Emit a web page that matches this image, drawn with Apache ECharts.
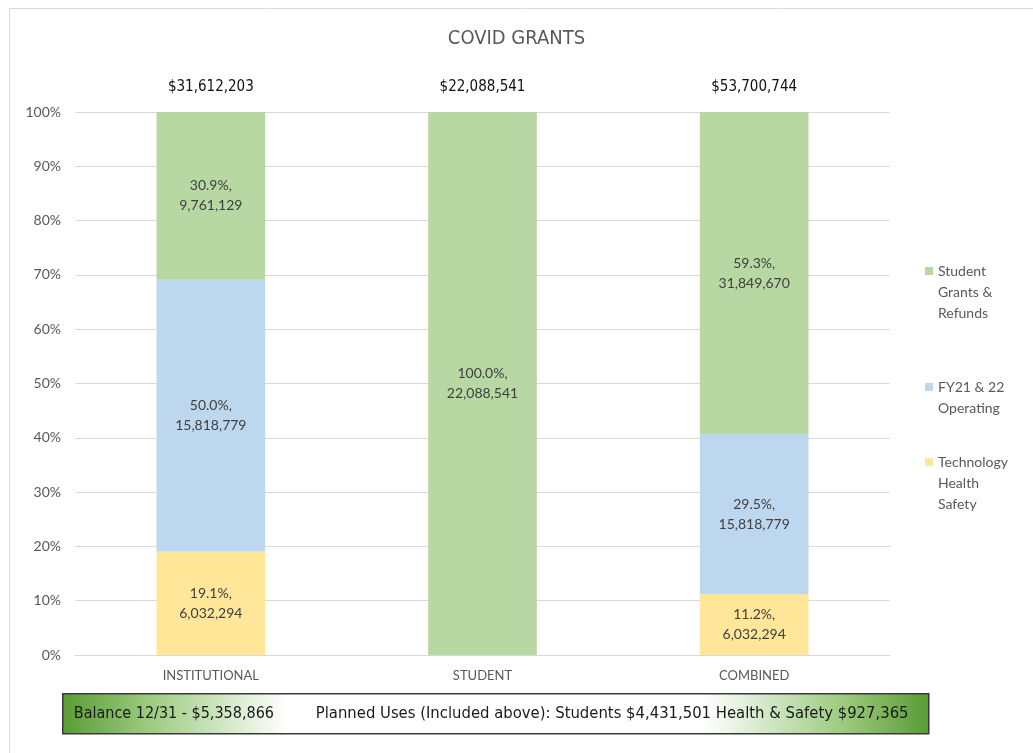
<!DOCTYPE html>
<html>
<head>
<meta charset="utf-8">
<script src="https://cdn.jsdelivr.net/npm/echarts@6/dist/echarts.min.js"></script>
<style>
html,body{margin:0;padding:0;background:#fff;}
#chart{width:1033px;height:753px;}
</style>
</head>
<body>
<div id="chart"></div>
<script>
const categories = ['INSTITUTIONAL', 'STUDENT', 'COMBINED'];
const techHealthSafety = [6032294, 0, 6032294];
const operating = [15818779, 0, 15818779];
const studentGrants = [9761129, 22088541, 31849670];
const totalLabels = ['$31,612,203', '$22,088,541', '$53,700,744'];
const yTicks = [0, 10, 20, 30, 40, 50, 60, 70, 80, 90, 100];
const seriesNames = ['Technology\nHealth\nSafety', 'FY21 & 22\nOperating', 'Student\nGrants &\nRefunds'];
const balanceText = 'Balance 12/31 - $5,358,866';
const plannedText = 'Planned Uses (Included above): Students $4,431,501 Health & Safety $927,365';

const colors = ['#ffe699', '#bdd7ee', '#b7d8a2'];
const raw = [techHealthSafety, operating, studentGrants];
const totals = categories.map((c, i) => raw.reduce((s, arr) => s + arr[i], 0));
const labelFont = "Lato, 'Open Sans', sans-serif";
const narrow = "'Liberation Sans Narrow', 'DejaVu Sans Condensed', 'Liberation Sans', sans-serif";

const series = raw.map((arr, k) => ({
  name: seriesNames[k],
  type: 'bar',
  stack: 'total',
  barWidth: '40%',
  itemStyle: { color: colors[k] },
  data: arr.map((v, i) => ({ value: v / totals[i] * 100, raw: v })),
  label: {
    show: true,
    position: 'inside',
    color: '#404040',
    fontFamily: labelFont,
    fontSize: 14,
    lineHeight: 20,
    formatter: p => p.data.raw === 0 ? '' : p.value.toFixed(1) + '%,\n' + p.data.raw.toLocaleString('en-US')
  }
}));

// legend entries top-to-bottom: series 2, 1, 0 ; first-line centre y in reference: 271, 387, 462
const LH = 21;
const legendCentres = [271, 387, 462];
const legends = [2, 1, 0].map((k, j) => {
  const lines = seriesNames[k].split('\n').length;
  const h = lines * LH;
  const H = h / 2 - LH / 2 + 4 + (h / 2 - LH / 2 - 4); // icon box height so square sits on first line
  const iconH = (h - LH) + 8;
  return {
    orient: 'vertical',
    left: 920,
    top: legendCentres[j] - LH / 2 - 5,
    data: [seriesNames[k]],
    icon: 'path://M0,0L8,0L8,8L0,8Z M0,' + iconH + 'L0.001,' + iconH + 'Z',
    itemWidth: 8,
    itemHeight: iconH,
    itemGap: 0,
    selectedMode: false,
    textStyle: { color: '#595959', fontFamily: labelFont, fontSize: 14, lineHeight: LH }
  };
});

const chart = echarts.init(document.getElementById('chart'), null, { renderer: 'canvas' });
chart.setOption({
  animation: false,
  backgroundColor: '#fff',
  title: {
    text: 'COVID GRANTS',
    left: 'center',
    top: 24,
    textStyle: { color: '#595959', fontFamily: narrow, fontSize: 20, fontWeight: 'normal' }
  },
  legend: legends,
  grid: { left: 75, right: 143, top: 112, bottom: 98 },
  xAxis: [
    {
      type: 'category',
      data: categories,
      axisLine: { lineStyle: { color: '#d9d9d9' } },
      axisTick: { show: false },
      axisLabel: { color: '#595959', fontFamily: labelFont, fontSize: 13, margin: 14 }
    },
    {
      type: 'category',
      position: 'top',
      data: totalLabels,
      axisLine: { show: false },
      axisTick: { show: false },
      axisLabel: { color: '#111', fontFamily: narrow, fontSize: 15, margin: 17 }
    }
  ],
  yAxis: {
    type: 'value',
    min: 0,
    max: 100,
    interval: 10,
    axisLine: { show: false },
    axisTick: { show: false },
    splitLine: { lineStyle: { color: '#d9d9d9' } },
    axisLabel: {
      color: '#595959', fontFamily: labelFont, fontSize: 14, margin: 14,
      formatter: v => yTicks.includes(v) ? v + '%' : ''
    }
  },
  series: series,
  graphic: [
    {
      type: 'rect',
      left: 7, top: 6,
      shape: { width: 1040, height: 760 },
      style: { fill: 'none', stroke: '#d9d9d9', lineWidth: 1 },
      silent: true, z: -10
    },
    {
      type: 'group',
      left: 62, top: 693,
      children: [
        {
          type: 'rect',
          shape: { x: 0, y: 0, width: 866, height: 40 },
          style: {
            fill: new echarts.graphic.LinearGradient(0, 0, 1, 0, [
              { offset: 0, color: '#5a9b33' },
              { offset: 0.1, color: '#9ccb80' },
              { offset: 0.26, color: '#ffffff' },
              { offset: 0.74, color: '#ffffff' },
              { offset: 0.9, color: '#9ccb80' },
              { offset: 1, color: '#5a9b33' }
            ]),
            stroke: '#3a3a3a',
            lineWidth: 1.5
          }
        },
        {
          type: 'text',
          x: 11, y: 20,
          style: { text: balanceText, fill: '#1a1a1a', font: "16px 'Liberation Sans Narrow', 'DejaVu Sans Condensed', sans-serif", textVerticalAlign: 'middle' }
        },
        {
          type: 'text',
          x: 253, y: 20,
          style: { text: plannedText, fill: '#1a1a1a', font: "16.5px 'Liberation Sans Narrow', 'DejaVu Sans Condensed', sans-serif", textVerticalAlign: 'middle' }
        }
      ]
    }
  ]
});
</script>
</body>
</html>
